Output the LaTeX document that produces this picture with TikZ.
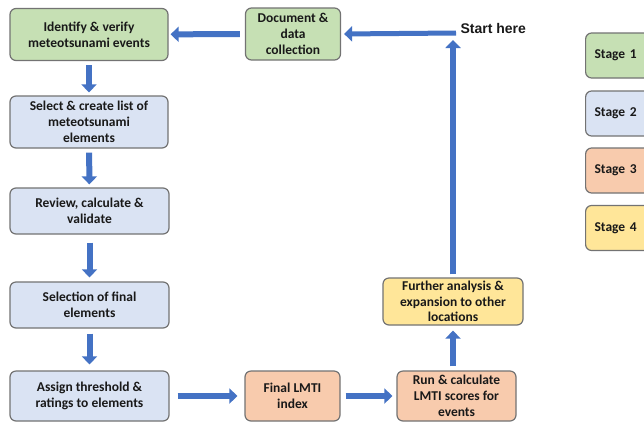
\documentclass[tikz,border=0pt]{standalone}
\usepackage{fontspec}
\setmainfont{Carlito}
\newfontfamily\arialfont{Liberation Sans}
\usetikzlibrary{arrows.meta}
\definecolor{stage-one}{HTML}{C6E0B4}
\definecolor{stage-two}{HTML}{DAE3F3}
\definecolor{stage-three}{HTML}{F8CBAD}
\definecolor{stage-four}{HTML}{FFE699}
\definecolor{flow-blue}{HTML}{4472C4}
\tikzset{
    rounded-box/.style = {draw=black!55, line width=1.2pt, rectangle, rounded corners=6pt, inner xsep=3pt, inner ysep=0pt, align=center, text=black!90, font=\bfseries\fontsize{13.5}{16}\selectfont},
    flow-arrow/.style = {draw=flow-blue, line width=6pt, -{Triangle[width=15pt,length=8pt]}},
    legend-box/.style = {rounded-box, text width=60pt, align=left, inner xsep=9pt, minimum height=45pt, anchor=west},
}
\begin{document}
\begin{tikzpicture}[x=1pt,y=-1pt]
\clip (0,0) rectangle (644,424);
\fill[white] (0,0) rectangle (644,424);
\node [rounded-box, fill=stage-one, minimum width=158pt, minimum height=52pt] (identify) at (89,34.5) {Identify \& verify\\meteotsunami events};
\node [rounded-box, fill=stage-one, minimum width=95pt, minimum height=52pt] (document) at (293,34) {Document \&\\data\\collection};
\node [rounded-box, fill=stage-two, minimum width=158pt, minimum height=52pt] (select) at (89,122) {Select \& create list of\\meteotsunami\\elements};
\node [rounded-box, fill=stage-two, minimum width=159pt, minimum height=46pt] (review) at (89.5,211) {Review, calculate \&\\validate};
\node [rounded-box, fill=stage-two, minimum width=159pt, minimum height=46pt] (selection) at (89.5,305) {Selection of final\\elements};
\node [rounded-box, fill=stage-two, minimum width=159pt, minimum height=50pt] (assign) at (89.5,396) {Assign threshold \&\\ratings to elements};
\node [rounded-box, fill=stage-three, minimum width=95pt, minimum height=50pt] (final) at (292.5,396) {Final LMTI\\index};
\node [rounded-box, fill=stage-three, minimum width=119pt, minimum height=50pt] (run) at (456.5,396) {Run \& calculate\\LMTI scores for\\events};
\node [rounded-box, fill=stage-four, minimum width=140pt, minimum height=47pt, font=\bfseries\fontsize{13.5}{15.5}\selectfont] (further) at (453,301.5) {Further analysis \&\\expansion to other\\locations};
\coordinate (start) at (453,33);
\node [anchor=west, font=\arialfont\bfseries\fontsize{14}{16}\selectfont, text=black!90] (starttext) at (457,28) {Start here};
\node [legend-box, fill=stage-one] (stage1) at (585,55.5) {Stage 1};
\node [legend-box, fill=stage-two] (stage2) at (585,113.5) {Stage 2};
\node [legend-box, fill=stage-three] (stage3) at (585,170.5) {Stage 3};
\node [legend-box, fill=stage-four] (stage4) at (585,228) {Stage 4};
\draw [flow-arrow, shorten <=5pt, shorten >=2pt] (document) -- (identify);
\draw [flow-arrow, shorten <=4pt, shorten >=3pt] (identify) -- (select);
\draw [flow-arrow, shorten <=4pt, shorten >=3pt] (select) -- (review);
\draw [flow-arrow, shorten <=8pt, shorten >=4pt] (review) -- (selection);
\draw [flow-arrow, shorten <=5pt, shorten >=6pt] (selection) -- (assign);
\draw [flow-arrow, shorten <=8pt, shorten >=7pt] (assign) -- (final);
\draw [flow-arrow, shorten <=5pt, shorten >=4pt] (final) -- (run);
\draw [flow-arrow, shorten <=4pt, shorten >=5pt] (run.north -| further) -- (further);
\draw [flow-arrow, shorten <=3pt, shorten >=7pt] (further) -- (start);
\draw [flow-arrow, line width=5pt, shorten >=3pt] ([xshift=3pt]start) -- (document.east);
\end{tikzpicture}
\end{document}
